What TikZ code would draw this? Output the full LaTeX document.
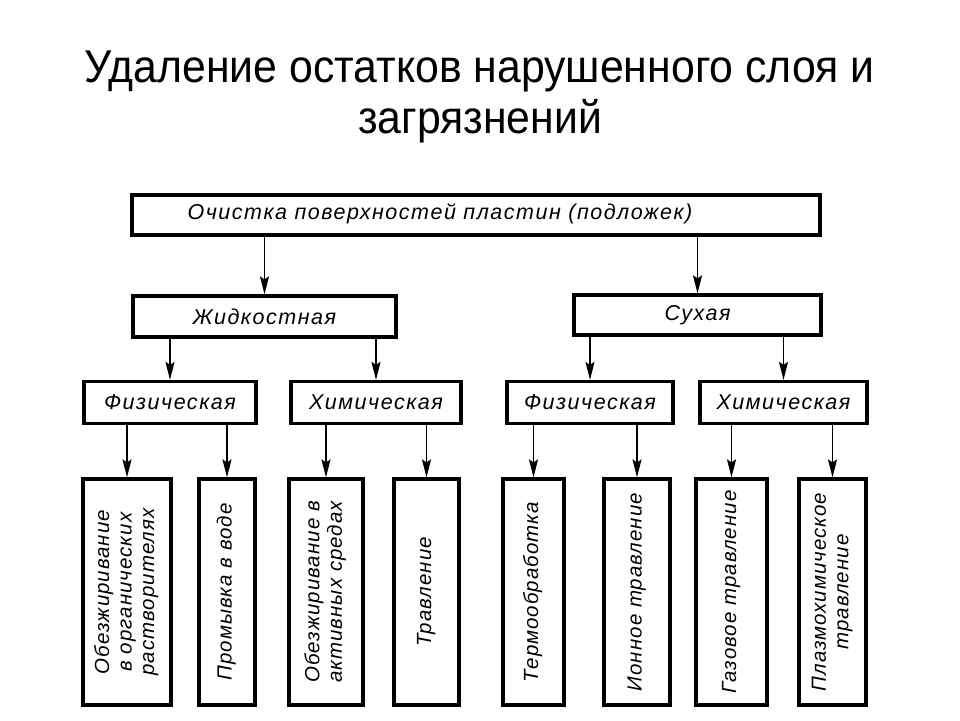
\documentclass[tikz,border=0pt]{standalone}
\usepackage{fontspec}
\usepackage{graphicx}
\setmainfont{Liberation Sans}
\newfontfamily\titlefont[FakeStretch=0.93]{Liberation Sans}
\newfontfamily\schemefont[LetterSpace=7]{Liberation Sans}
\newfontfamily\vschemefont[LetterSpace=5]{Liberation Sans}
\usetikzlibrary{arrows.meta}

\newcommand{\vtext}[1]{\rotatebox{90}{\begin{tabular}{@{}c@{}}#1\end{tabular}}}

\begin{document}
\begin{tikzpicture}[x=1pt,y=-1pt,
  box/.style={draw, line width=3.2pt, inner sep=0pt},
  lbl/.style={font=\schemefont\itshape\fontsize{21.5}{23}\selectfont},
  vlbl/.style={font=\vschemefont\itshape\fontsize{20.5}{22.5}\selectfont},
  arr/.style={-{Stealth[length=18pt,width=9pt,inset=3pt]}, line width=1.6pt}]

\useasboundingbox (0,0) rectangle (960,720);

\node[font=\titlefont\fontsize{46}{51}\selectfont, align=center] (title) at (480,97)
  {Удаление остатков нарушенного слоя и\\загрязнений};

% top
\node[box, minimum width=688, minimum height=40] (clean) at (476,215) {};
\node[lbl] (cleantxt) at (440,214) {Очистка поверхностей пластин (подложек)};

% second level
\node[box, lbl, minimum width=263, minimum height=41] (liquid) at (264.5,316.5) {Жидкостная};
\node[box, lbl, minimum width=247, minimum height=40] (dry) at (697.5,315) {Сухая};

% third level
\node[box, lbl, minimum width=172, minimum height=42] (physL) at (170,402.5) {Физическая};
\node[box, lbl, minimum width=170, minimum height=42] (chemL) at (376,402.5) {Химическая};
\node[box, lbl, minimum width=166, minimum height=42] (physR) at (590,402.5) {Физическая};
\node[box, lbl, minimum width=167, minimum height=42] (chemR) at (783.5,402.5) {Химическая};

% methods
\node[box, vlbl, minimum width=88, minimum height=226] (degreaseOrg) at (127,592)
  {\vtext{Обезжиривание\\в органических\\растворителях}};
\node[box, vlbl, minimum width=56, minimum height=226] (rinse) at (227,592)
  {\vtext{Промывка в воде}};
\node[box, vlbl, minimum width=74, minimum height=226] (degreaseAct) at (326,592)
  {\vtext{Обезжиривание в\\активных средах}};
\node[box, vlbl, minimum width=65, minimum height=226] (etchL) at (426.5,592)
  {\vtext{Травление}};
\node[box, vlbl, minimum width=61, minimum height=226] (thermal) at (533.5,592)
  {\vtext{Термообработка}};
\node[box, vlbl, minimum width=66, minimum height=226] (ion) at (637,592)
  {\vtext{Ионное травление}};
\node[box, vlbl, minimum width=71, minimum height=226] (gas) at (731.5,592)
  {\vtext{Газовое травление}};
\node[box, vlbl, minimum width=67, minimum height=226] (plasma) at (832.5,592)
  {\vtext{Плазмохимическое\\травление}};

% arrows
\draw[arr] (clean.south -| liquid.north) -- (liquid.north);
\draw[arr] (clean.south -| dry.north) -- (dry.north);

\draw[arr] (liquid.south -| physL.north) -- (physL.north);
\draw[arr] (liquid.south -| chemL.north) -- (chemL.north);
\draw[arr] (dry.south -| physR.north) -- (physR.north);
\draw[arr] (dry.south -| chemR.north) -- (chemR.north);

\draw[arr] (physL.south -| degreaseOrg.north) -- (degreaseOrg.north);
\draw[arr] (physL.south -| rinse.north) -- (rinse.north);
\draw[arr] (chemL.south -| degreaseAct.north) -- (degreaseAct.north);
\draw[arr] (chemL.south -| etchL.north) -- (etchL.north);
\draw[arr] (physR.south -| thermal.north) -- (thermal.north);
\draw[arr] (physR.south -| ion.north) -- (ion.north);
\draw[arr] (chemR.south -| gas.north) -- (gas.north);
\draw[arr] (chemR.south -| plasma.north) -- (plasma.north);
\end{tikzpicture}
\end{document}
